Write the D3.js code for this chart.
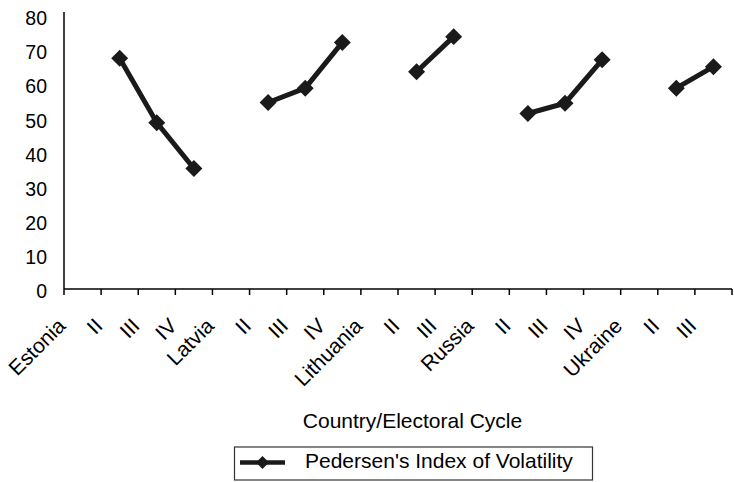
<!DOCTYPE html>
<html>
<head>
<meta charset="utf-8">
<script src="https://cdn.jsdelivr.net/npm/d3@7"></script>
<style>
	body { margin: 0; background: #fff; }
	text { font-family: "Liberation Sans", Arial, sans-serif; fill: #000; }
</style>
</head>
<body>
<svg id="chart" width="734" height="482"></svg>
<script>
"use strict";

//
//	Data
//
var categories = ["Estonia", "II", "III", "IV", "Latvia", "II", "III", "IV", "Lithuania", "II", "III",
	"Russia", "II", "III", "IV", "Ukraine", "II", "III"];
var volatility = [null, 67.6, 48.7, 35.3, null, 54.6, 58.8, 72.2, null, 63.6, 73.9,
	null, 51.4, 54.4, 67.1, null, 58.8, 65.1];
var yTicks = [0, 10, 20, 30, 40, 50, 60, 70, 80];
var xTitle = "Country/Electoral Cycle";
var seriesName = "Pedersen's Index of Volatility";

var ink = "#1a1a1a";
var svg = d3.select("#chart");

var x = d3.scaleBand().domain(d3.range(categories.length)).range([64, 732]);
var y = d3.scaleLinear().domain([0, 80]).range([289, 15.8]);

function cx(i){ return x(i) + x.bandwidth() / 2; }

//	y axis: labels only, line drawn by hand so it runs to the plot top
var yAxis = svg.append("g")
	.attr("transform", "translate(64,2.5)")
	.call(d3.axisLeft(y).tickValues(yTicks).tickSize(0).tickPadding(17));
yAxis.select(".domain").remove();
yAxis.selectAll("text").style("font-size", "19.5px").style("font-family", null);

svg.append("line")
	.attr("x1", 64).attr("x2", 64).attr("y1", 12).attr("y2", y(0))
	.attr("stroke", "#000").attr("stroke-width", 1.5);

//	x axis: ticks sit between the categories
var ticks = d3.range(categories.length + 1).map(function(i){ return i < categories.length ? x(i) : x.range()[1]; });
svg.append("line")
	.attr("x1", 64).attr("x2", 732).attr("y1", y(0)).attr("y2", y(0))
	.attr("stroke", "#000").attr("stroke-width", 1.5);
svg.selectAll(".xtick").data(ticks).enter().append("line")
	.attr("class", "xtick")
	.attr("x1", function(d){ return d; }).attr("x2", function(d){ return d; })
	.attr("y1", y(0)).attr("y2", y(0) + 6)
	.attr("stroke", "#000").attr("stroke-width", 1.5);

svg.selectAll(".xlabel").data(categories).enter().append("text")
	.attr("class", "xlabel")
	.attr("transform", function(d, i){ return "translate(" + (cx(i) - 21) + ",322) rotate(-45)"; })
	.attr("text-anchor", "end")
	.attr("dy", "0.35em")
	.style("font-size", "21px")
	.text(function(d){ return d; });

svg.append("text")
	.attr("x", 412.5).attr("y", 428.3)
	.attr("text-anchor", "middle")
	.style("font-size", "21px")
	.text(xTitle);

//	the series, broken at each country row
var pts = volatility.map(function(v, i){ return {i: i, v: v}; });
var line = d3.line()
	.defined(function(d){ return d.v != null; })
	.x(function(d){ return cx(d.i); })
	.y(function(d){ return y(d.v); });

svg.append("path")
	.datum(pts)
	.attr("d", line)
	.attr("fill", "none")
	.attr("stroke", ink)
	.attr("stroke-width", 5);

var diamond = d3.symbol().type(d3.symbolSquare).size(144);
svg.selectAll(".marker").data(pts.filter(function(d){ return d.v != null; })).enter().append("path")
	.attr("class", "marker")
	.attr("d", diamond)
	.attr("transform", function(d){ return "translate(" + cx(d.i) + "," + y(d.v) + ") rotate(45)"; })
	.attr("fill", ink);

//	legend
var legend = svg.append("g");
legend.append("rect")
	.attr("x", 234.5).attr("y", 447).attr("width", 358).attr("height", 33)
	.attr("fill", "#fff").attr("stroke", "#333").attr("stroke-width", 1.2);
legend.append("line")
	.attr("x1", 240).attr("x2", 285).attr("y1", 462.5).attr("y2", 462.5)
	.attr("stroke", ink).attr("stroke-width", 4.5);
legend.append("path")
	.attr("d", d3.symbol().type(d3.symbolSquare).size(85))
	.attr("transform", "translate(262.5,462.5) rotate(45)")
	.attr("fill", ink);
legend.append("text")
	.attr("x", 305).attr("y", 468)
	.style("font-size", "21px")
	.text(seriesName);
</script>
</body>
</html>
